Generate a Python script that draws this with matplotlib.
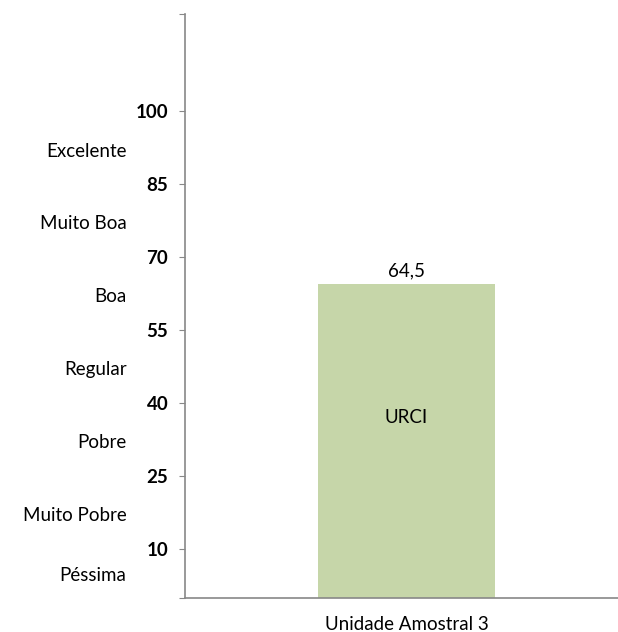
import matplotlib
matplotlib.use("Agg")
import matplotlib.pyplot as plt

# dados
categorias = ["Unidade Amostral 3"]
valores = [64.5]
rotulo_barra = "URCI"
ticks_y = [0, 10, 25, 40, 55, 70, 85, 100, 120]
ticks_rotulos = ["", "10", "25", "40", "55", "70", "85", "100", ""]
classes = ["Excelente", "Muito Boa", "Boa", "Regular", "Pobre", "Muito Pobre", "Péssima"]
classes_y = [91.7, 77, 62, 47, 32, 17, 4.6]

plt.rcParams['font.family'] = ['Lato', 'DejaVu Sans']
plt.rcParams['font.size'] = 13.5

fig = plt.figure(figsize=(6.18, 6.32), dpi=100)
ax = fig.add_axes([185 / 618, 34 / 632, 433 / 618, 584 / 632])

x = [0]
ax.bar(x, valores, width=0.4, color='#c6d6a9', zorder=2)
ax.set_xlim(-0.5, 0.4774)
ax.set_ylim(0, 120)

for xi, v in zip(x, valores):
    ax.text(xi, v + 1, f"{v:.1f}".replace('.', ','), ha='center', va='bottom')
    ax.text(xi, 37, rotulo_barra, ha='center', va='center')

ax.set_xticks(x)
ax.set_xticklabels(categorias)
ax.tick_params(axis='x', length=0, pad=13)

ax.set_yticks(ticks_y)
ax.set_yticklabels(ticks_rotulos, fontweight='bold')
ax.tick_params(axis='y', length=4, color='#888888', pad=8, direction='out')

for s in ['top', 'right']:
    ax.spines[s].set_visible(False)
for s in ['left', 'bottom']:
    ax.spines[s].set_color('#888888')
    ax.spines[s].set_linewidth(1.2)

# classes de condição (à esquerda dos números)
for nome, yv in zip(classes, classes_y):
    ax.text(-0.135, yv, nome, transform=ax.get_yaxis_transform(), ha='right', va='center')

fig.savefig("out.png", dpi=100)
